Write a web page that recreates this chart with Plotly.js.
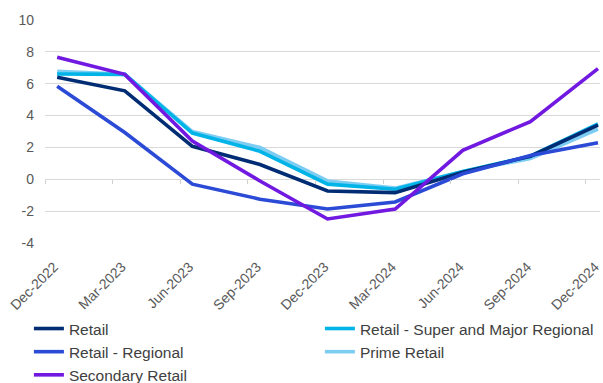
<!DOCTYPE html>
<html>
<head>
<meta charset="utf-8">
<script src="https://cdn.plot.ly/plotly-3.0.1.min.js"></script>
<style>
  html, body { margin: 0; padding: 0; background: #fff; }
  #chart { width: 603px; height: 383px; }
</style>
</head>
<body>
<div id="chart"></div>
<script>
// Quarterly series, % change
const quarters = ['Dec-2022', 'Mar-2023', 'Jun-2023', 'Sep-2023', 'Dec-2023',
                  'Mar-2024', 'Jun-2024', 'Sep-2024', 'Dec-2024'];

const retail            = [6.4, 5.55, 2.07, 0.93, -0.73, -0.83, 0.45, 1.45, 3.4];
const retailSuperMajor  = [6.6, 6.58, 2.9, 1.76, -0.3, -0.62, 0.5, 1.45, 3.48];
const retailRegional    = [5.84, 2.94, -0.3, -1.24, -1.86, -1.42, 0.35, 1.49, 2.3];
const primeRetail       = [6.77, 6.58, 3.0, 2.0, -0.1, -0.55, 0.5, 1.3, 3.15];
const secondaryRetail   = [7.66, 6.58, 2.4, -0.1, -2.48, -1.86, 1.82, 3.62, 6.94];

const yTicks = [-4, -2, 0, 2, 4, 6, 8, 10];
const yRange = [-4.05, 10.05];

function line(name, y, color) {
  return {
    type: 'scatter', mode: 'lines', name: name,
    x: quarters, y: y,
    line: { color: color, width: 3.6 },
    hoverinfo: 'skip'
  };
}

// Trace order sets the two-column legend layout
const data = [
  line('Retail', retail, '#002C73'),
  line('Retail - Super and Major Regional', retailSuperMajor, '#00B4E8'),
  line('Retail - Regional', retailRegional, '#2B4AD6'),
  line('Prime Retail', primeRetail, '#7DCDF3'),
  line('Secondary Retail', secondaryRetail, '#7119E0')
];

// Draw the paler lines underneath the darker ones
const drawOrder = [3, 1, 0, 2, 4];
const traces = drawOrder.map(i => Object.assign({}, data[i], { legendrank: i + 1 }));

// Small tick marks sitting on the zero line
traces.push({
  type: 'scatter', mode: 'lines', x: [], y: [], xaxis: 'x2', yaxis: 'y',
  showlegend: false, hoverinfo: 'skip'
});

const layout = {
  width: 603, height: 383,
  margin: { l: 45, r: 3, t: 19, b: 139, autoexpand: false },
  paper_bgcolor: '#ffffff', plot_bgcolor: '#ffffff',
  font: { family: 'Liberation Sans, Arial, sans-serif', color: '#595959' },
  showlegend: true,
  xaxis: {
    type: 'category',
    range: [-0.18, 8.03],
    automargin: false,
    showgrid: false, zeroline: false, showline: false,
    ticks: '', tickangle: -45,
    ticklabelstandoff: 11,
    ticklabelshift: -3,
    tickfont: { size: 14, color: '#595959' },
    fixedrange: true
  },
  xaxis2: {
    overlaying: 'x', anchor: 'free',
    position: (0 - yRange[0]) / (yRange[1] - yRange[0]),
    range: [-0.18, 8.03],
    tickmode: 'linear', tick0: -0.18, dtick: 1,
    ticks: 'outside', ticklen: 4, tickwidth: 1, tickcolor: '#d0d0d0',
    showticklabels: false, showgrid: false, zeroline: false, showline: false,
    automargin: false,
    fixedrange: true
  },
  yaxis: {
    range: yRange,
    tickvals: yTicks,
    ticktext: yTicks.map(String),
    automargin: false,
    showgrid: true, gridcolor: '#d9d9d9', gridwidth: 1.3,
    zeroline: false, showline: false, ticks: '',
    ticklabelstandoff: 10,
    tickfont: { size: 14, color: '#595959' },
    fixedrange: true
  },
  legend: {
    orientation: 'h',
    x: -0.029, xanchor: 'left',
    y: -0.302, yanchor: 'top',
    entrywidth: 246, entrywidthmode: 'pixels',
    font: { size: 15.5, color: '#404040' },
    traceorder: 'normal',
    bgcolor: 'rgba(0,0,0,0)'
  }
};

Plotly.newPlot('chart', traces, layout, { displayModeBar: false, staticPlot: true });
</script>
</body>
</html>
